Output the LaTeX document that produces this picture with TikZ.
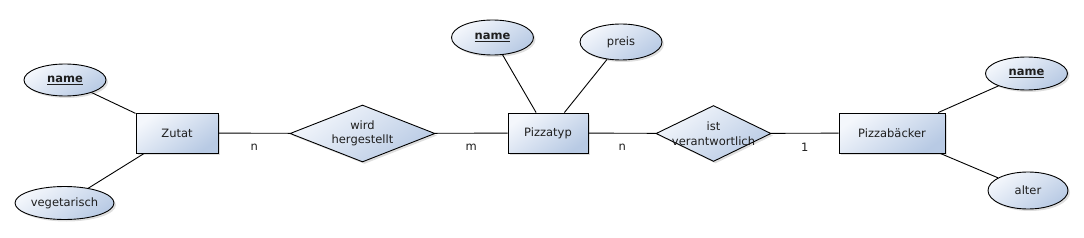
\documentclass[tikz,border=0pt]{standalone}
\usepackage{fontspec}
\setmainfont{DejaVu Sans}
\usetikzlibrary{shapes.geometric,shadows}
\definecolor{gl}{RGB}{244,247,252}
\definecolor{gd}{RGB}{184,202,228}
\definecolor{txt}{RGB}{30,30,30}
\begin{document}
\begin{tikzpicture}[x=1pt,y=-1pt,
  font=\fontsize{11.5}{14.5}\selectfont, text=txt,
  er/.style={draw=black, line width=0.9pt, shading=axis, top color=gl, bottom color=gd, shading angle=35,
    drop shadow={shadow xshift=2pt, shadow yshift=-2pt, opacity=0.25}, inner sep=0pt},
  entity/.style={er, rectangle, minimum height=40pt},
  attr/.style={er, ellipse, minimum width=82pt, minimum height=34pt},
  rel/.style={er, diamond, minimum width=145pt, minimum height=57pt},
  conn/.style={line width=0.9pt},
  card/.style={midway, yshift=-14pt, inner sep=0pt}
]
\useasboundingbox (0,0) rectangle (1084,238);
% entities
\node[entity, minimum width=82pt] (zutat) at (177,133) {Zutat};
\node[entity, minimum width=80pt] (ptyp) at (548,133) {Pizzatyp};
\node[entity, minimum width=106pt] (pb) at (892,133) {Pizzabäcker};
% relationships
\node[rel] (wh) at (362.5,133.5) {};
\node[align=center] at (wh) {wird\\hergestellt};
\node[rel, minimum width=115pt, minimum height=56pt] (iv) at (713.5,133.5) {};
\node[align=center] at (iv) {ist\\verantwortlich};
% attributes
\node[attr, minimum height=32pt] (zname) at (65,80) {\underline{\textbf{name}}};
\node[attr, minimum width=99pt, minimum height=33pt] (veg) at (64.5,203) {vegetarisch};
\node[attr, minimum height=35pt] (pname) at (492.5,37.5) {\underline{\textbf{name}}};
\node[attr, minimum height=36pt] (preis) at (621,42) {preis};
\node[attr, minimum height=33pt] (bname) at (1026.5,73.5) {\underline{\textbf{name}}};
\node[attr, minimum width=80pt, minimum height=37pt] (alter) at (1028,190.5) {alter};
% connectors
\draw[conn] (zname) -- (zutat);
\draw[conn] (veg) -- (zutat);
\draw[conn] (pname) -- (ptyp);
\draw[conn] (preis) -- (ptyp);
\draw[conn] (bname) -- (pb);
\draw[conn] (alter) -- (pb);
\draw[conn] (zutat) -- node[card] {n} (wh);
\draw[conn] (wh) -- node[card] {m} (ptyp);
\draw[conn] (ptyp) -- node[card] {n} (iv);
\draw[conn] (iv) -- node[card] {1} (pb);
\end{tikzpicture}
\end{document}
